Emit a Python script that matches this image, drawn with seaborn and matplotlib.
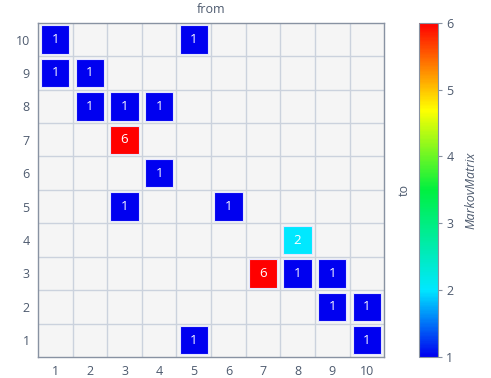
import numpy as np
import pandas as pd
import seaborn as sns
import matplotlib.pyplot as plt
from matplotlib.colors import LinearSegmentedColormap, Normalize
from matplotlib.cm import ScalarMappable

# transitions: from -> to with count
src = [1, 5, 1, 2, 2, 3, 4, 3, 4, 3, 6, 8, 7, 8, 9, 9, 10, 5, 10]
dst = [10, 10, 9, 9, 8, 8, 8, 7, 6, 5, 5, 4, 3, 3, 3, 2, 2, 1, 1]
val = [1, 1, 1, 1, 1, 1, 1, 6, 1, 1, 1, 2, 6, 1, 1, 1, 1, 1, 1]
ticks = list(range(1, 11))

df = pd.DataFrame({"from": src, "to": dst, "MarkovMatrix": val})

sns.set_style("white")
plt.rcParams["font.family"] = ["Open Sans", "DejaVu Sans"]
plt.rcParams["font.size"] = 9
txt_col = "#4d5a6e"
grid_col = "#cbd2dd"
spine_col = "#8892a2"

cmap = LinearSegmentedColormap.from_list(
    "mm", [(0.0, "#0000f0"), (0.2, "#00e8ff"), (0.5, "#00f040"),
           (0.74, "#ffff00"), (1.0, "#ff0000")])
norm = Normalize(1, 6)

fig = plt.figure(figsize=(4.91, 3.78), dpi=100)
ax = fig.add_axes([0.0774, 0.0556, 0.705, 0.884])
ax.set_facecolor("#f5f5f5")

sns.scatterplot(data=df, x="from", y="to", hue="MarkovMatrix", palette=cmap,
                hue_norm=norm, marker="s", s=415, edgecolor="#e4e6ff",
                linewidth=0.8, legend=False, ax=ax, zorder=3)
for x, y, v in zip(src, dst, val):
    ax.text(x, y, str(v), ha="center", va="center", color="white",
            fontsize=9.5, zorder=4)

ax.set_xlim(0.5, 10.5)
ax.set_ylim(0.5, 10.5)
ax.set_xticks(ticks)
ax.set_yticks(ticks)
ax.set_xticks(np.arange(1.5, 10.5, 1), minor=True)
ax.set_yticks(np.arange(1.5, 10.5, 1), minor=True)
ax.grid(which="minor", color=grid_col, linewidth=1)
ax.tick_params(which="major", length=0, colors=txt_col, pad=6)
ax.tick_params(which="minor", length=4, color=grid_col, width=1)
for s in ax.spines.values():
    s.set_color(spine_col)
    s.set_linewidth(1)

ax.set_xlabel("from", color=txt_col, labelpad=7)
ax.xaxis.set_label_position("top")
ax.set_ylabel("to", color=txt_col, labelpad=10)
ax.yaxis.set_label_position("right")

cax = fig.add_axes([0.853, 0.0556, 0.039, 0.884])
cb = fig.colorbar(ScalarMappable(norm=norm, cmap=cmap), cax=cax)
cb.set_ticks([1, 2, 3, 4, 5, 6])
cb.outline.set_edgecolor(spine_col)
cax.tick_params(length=3, color=spine_col, labelcolor=txt_col, pad=3)
cb.set_label("MarkovMatrix", color=txt_col, style="italic", labelpad=8)

fig.savefig("out.png", dpi=100)
